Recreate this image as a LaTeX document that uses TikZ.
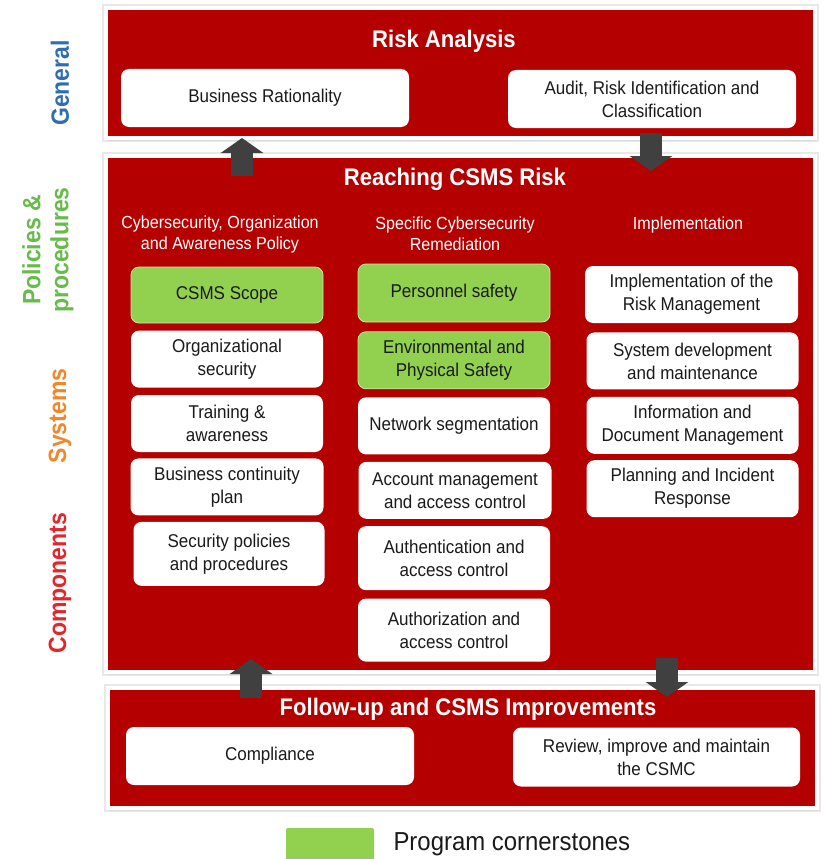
\documentclass[tikz,border=0pt]{standalone}
\usepackage{fontspec}
\setmainfont[FakeStretch=0.92]{Liberation Sans}
\usepackage{tikz}
\usetikzlibrary{arrows.meta,positioning,shadows}
\definecolor{rojo}{HTML}{B50000}
\definecolor{verde}{HTML}{92D050}
\definecolor{verdeborde}{HTML}{C9E8A8}
\definecolor{gris}{HTML}{404040}
\definecolor{grisclaro}{HTML}{E8E8E8}
\definecolor{texto}{HTML}{1A1A1A}
\definecolor{azul}{HTML}{2E6DB4}
\definecolor{verdelat}{HTML}{66BB4A}
\definecolor{naranja}{HTML}{F4862A}
\definecolor{rojolat}{HTML}{E3262B}
\tikzset{
  panel/.style={fill=rojo,draw=white,line width=4pt,preaction={draw=grisclaro,line width=8pt},drop shadow={opacity=0.12,shadow xshift=2pt,shadow yshift=-3pt}},
  caja/.style={fill=white,rounded corners=8pt,align=center,font=\fontsize{18.5}{23}\selectfont,text=texto,minimum height=57pt,inner sep=3pt},
  cajaverde/.style={caja,fill=verde,draw=verdeborde,line width=0.8pt},
  titulo/.style={font=\bfseries\fontsize{24}{28}\selectfont,text=white},
  cabecera/.style={font=\fontsize{17.5}{21}\selectfont,text=white,align=center},
  lateral/.style={rotate=90,font=\bfseries\fontsize{25}{28}\selectfont,align=center},
  flecha/.style={line width=22pt,gris,-{Triangle[width=42pt,length=15pt]}},
}

\begin{document}
\begin{tikzpicture}[x=1pt,y=-1pt,node distance=7pt]
  \useasboundingbox (0,0) rectangle (823,859);
  % panels
  \node[panel,minimum width=709pt,minimum height=130pt] (riesgo) at (460.5,73) {};
  \node[panel,minimum width=709pt,minimum height=516pt] (csms) at (460.5,414) {};
  \node[panel,minimum width=709pt,minimum height=120pt] (mejora) at (462.5,748) {};
  \node[titulo] (triesgo) at (444,41) {Risk Analysis};
  \node[titulo] (tcsms) at (455,179) {Reaching CSMS Risk};
  \node[titulo] (tmejora) at (468,709) {Follow-up and CSMS Improvements};
  % risk analysis
  \node[caja,minimum width=288pt,minimum height=58pt] (negocio) at (265,98) {Business Rationality};
  \node[caja,minimum width=288pt,minimum height=58pt] (auditoria) at (652,99) {Audit, Risk Identification and\\Classification};
  % column headers
  \node[cabecera] (h1) at (220,234) {Cybersecurity, Organization\\and Awareness Policy};
  \node[cabecera] (h2) at (455,234) {Specific Cybersecurity\\Remediation};
  \node[cabecera] (h3) at (688,225) {Implementation};
  % column 1
  \node[cajaverde,minimum width=192pt,minimum height=56pt] (alcance) at (227,295) {CSMS Scope};
  \node[caja,minimum width=192pt,below=7pt of alcance] (organizacion) {Organizational\\security};
  \node[caja,minimum width=192pt,below=7pt of organizacion] (formacion) {Training \&\\awareness};
  \node[caja,minimum width=193pt,below=6pt of formacion] (continuidad) {Business continuity\\plan};
  \node[caja,minimum width=191pt,minimum height=64pt,below=6pt of continuidad,xshift=2pt] (politicas) {Security policies\\and procedures};
  % column 2
  \node[cajaverde,minimum width=192pt,minimum height=58pt] (personal) at (454,293) {Personnel safety};
  \node[cajaverde,minimum width=192pt,below=9pt of personal] (entorno) {Environmental and\\Physical Safety};
  \node[caja,minimum width=192pt,below=8pt of entorno] (red) {Network segmentation};
  \node[caja,minimum width=193pt,below=7pt of red,xshift=1pt] (cuentas) {Account management\\and access control};
  \node[caja,minimum width=192pt,minimum height=64pt,below=7pt of cuentas,xshift=-1pt] (autenticacion) {Authentication and\\access control};
  \node[caja,minimum width=192pt,minimum height=63pt,below=8pt of autenticacion] (autorizacion) {Authorization and\\access control};
  % column 3
  \node[caja,minimum width=213pt] (gestion) at (691.5,294.5) {Implementation of the\\Risk Management};
  \node[caja,minimum width=212pt,below=9pt of gestion,xshift=1pt] (desarrollo) {System development\\and maintenance};
  \node[caja,minimum width=212pt,below=7pt of desarrollo] (documentos) {Information and\\Document Management};
  \node[caja,minimum width=212pt,below=6pt of documentos] (incidentes) {Planning and Incident\\Response};
  % follow-up
  \node[caja,minimum width=288pt,minimum height=58pt] (cumplimiento) at (270,756) {Compliance};
  \node[caja,minimum width=287pt,minimum height=59pt] (revision) at (656.5,757) {Review, improve and maintain\\the CSMC};
  % arrows between panels
  \coordinate (f1a) at (242,176);
  \coordinate (f1b) at (242,138);
  \coordinate (f2a) at (651,133);
  \coordinate (f2b) at (651,171);
  \coordinate (f3a) at (251,698);
  \coordinate (f3b) at (251,659);
  \coordinate (f4a) at (667,658);
  \coordinate (f4b) at (667,697);
  \draw[flecha] (f1a) -- (f1b);
  \draw[flecha] (f2a) -- (f2b);
  \draw[flecha] (f3a) -- (f3b);
  \draw[flecha] (f4a) -- (f4b);
  % side labels
  \node[lateral,text=azul] (general) at (60,83) {General};
  \node[lateral,text=verdelat] (procedimientos) at (48,250) {Policies \&\\procedures};
  \node[lateral,text=naranja] (sistemas) at (60,416) {Systems};
  \node[lateral,text=rojolat] (componentes) at (60,583) {Components};
  % legend
  \node[fill=verde,rounded corners=2pt,minimum width=88pt,minimum height=36pt] (leyenda) at (330,846) {};
  \node[font=\fontsize{26}{30}\selectfont,text=texto,anchor=west] (tleyenda) at (390,844) {Program cornerstones};
\end{tikzpicture}
\end{document}
